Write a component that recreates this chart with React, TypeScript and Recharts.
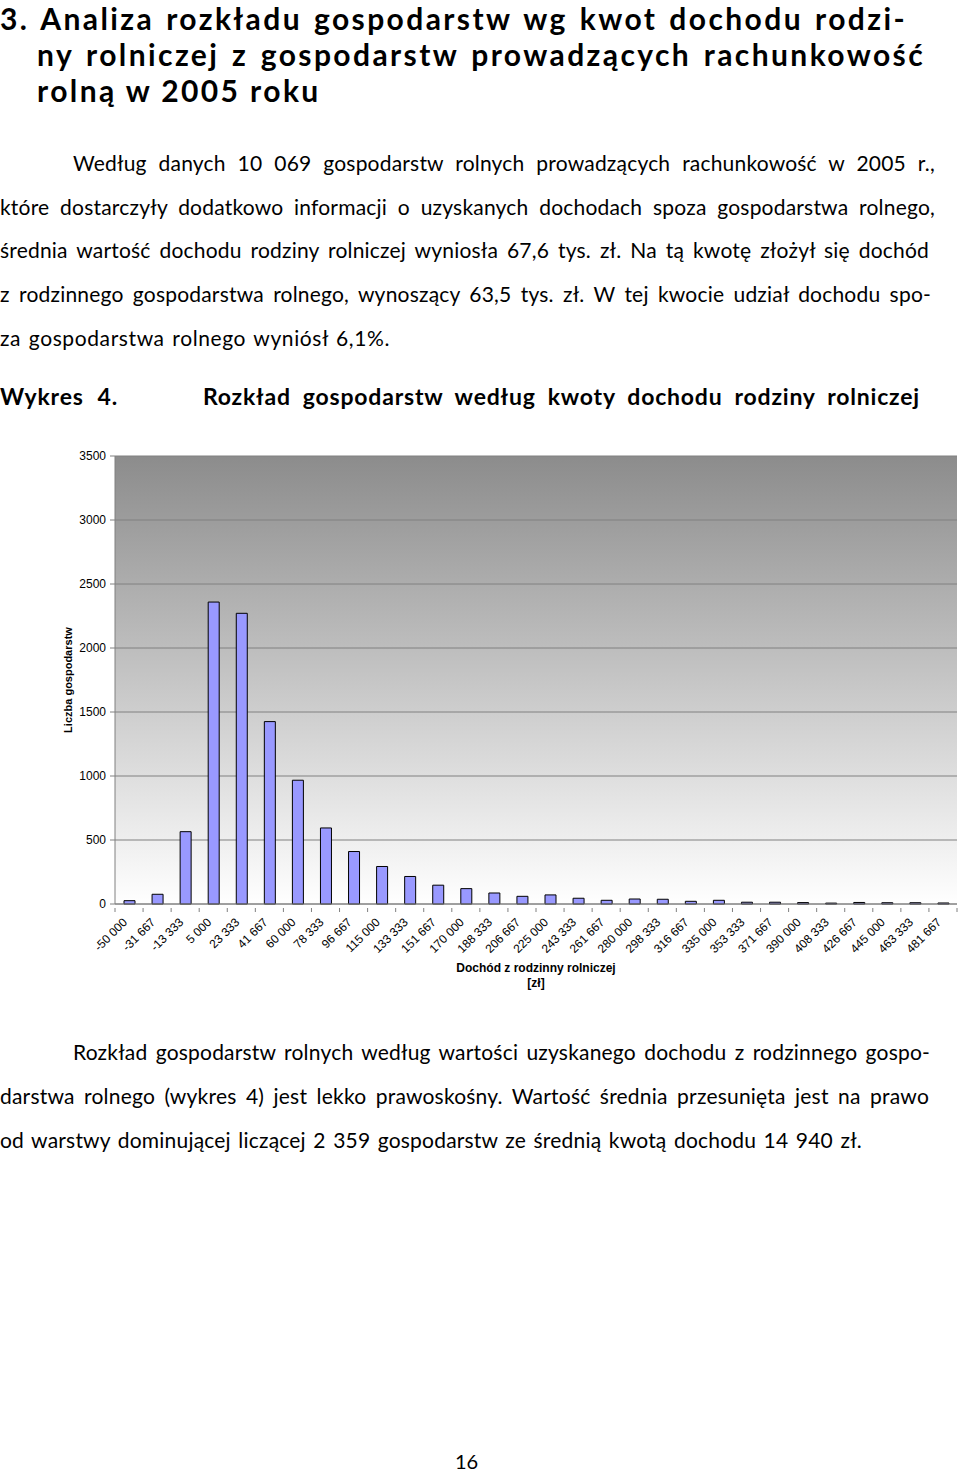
import React from 'react';
import { BarChart, Bar, XAxis, YAxis, CartesianGrid, Label } from 'recharts';

// income classes (zł) and number of farms in each
const incomeLabels = [
  '-50 000', '-31 667', '-13 333', '5 000', '23 333', '41 667', '60 000', '78 333',
  '96 667', '115 000', '133 333', '151 667', '170 000', '188 333', '206 667', '225 000',
  '243 333', '261 667', '280 000', '298 333', '316 667', '335 000', '353 333', '371 667',
  '390 000', '408 333', '426 667', '445 000', '463 333', '481 667',
];
const farmCounts = [
  26, 76, 565, 2359, 2271, 1425, 967, 594, 410, 293, 215, 147, 120, 86, 60, 71,
  45, 29, 39, 37, 21, 29, 14, 14, 11, 7, 12, 10, 10, 8,
];
const countTicks = [0, 500, 1000, 1500, 2000, 2500, 3000, 3500];

const titleLines = [
  '3. Analiza rozkładu gospodarstw wg kwot dochodu rodzi-',
  'ny rolniczej z gospodarstw prowadzących rachunkowość',
  'rolną w 2005 roku',
];
const introLines = [
  'Według danych 10 069 gospodarstw rolnych prowadzących rachunkowość w 2005 r.,',
  'które dostarczyły dodatkowo informacji o uzyskanych dochodach spoza gospodarstwa rolnego,',
  'średnia wartość dochodu rodziny rolniczej wyniosła 67,6 tys. zł. Na tą kwotę złożył się dochód',
  'z rodzinnego gospodarstwa rolnego, wynoszący 63,5 tys. zł. W tej kwocie udział dochodu spo-',
  'za gospodarstwa rolnego wyniósł 6,1%.',
];
const outroLines = [
  'Rozkład gospodarstw rolnych według wartości uzyskanego dochodu z rodzinnego gospo-',
  'darstwa rolnego (wykres 4) jest lekko prawoskośny. Wartość średnia przesunięta jest na prawo',
  'od warstwy dominującej liczącej 2 359 gospodarstw ze średnią kwotą dochodu 14 940 zł.',
];

const chartData = incomeLabels.map((label, i) => ({ label, count: farmCounts[i] }));

const TEXT_FONT = 'Lato, "Open Sans", sans-serif';
const CHART_FONT = '"Liberation Sans Narrow", "Liberation Sans", Arial, sans-serif';

function TextLine({ text, top, left = 0, width, size, bold = false, justify = true, lh = 1.2, spacing = 0 }: any) {
  return (
    <div
      style={{
        position: 'absolute',
        top,
        left,
        width,
        fontFamily: TEXT_FONT,
        fontSize: size,
        lineHeight: `${size * lh}px`,
        fontWeight: bold ? 700 : 400,
        letterSpacing: spacing,
        color: '#000',
        textAlign: justify ? 'justify' : 'left',
        textAlignLast: justify ? 'justify' : 'left',
      }}
    >
      {text}
    </div>
  );
}

function IncomeTick(props: any) {
  const { x, y, payload, index, visibleTicksCount } = props;
  const half = payload?.offset ?? 14;
  const axisY = y;
  const ax = x - 1;
  const ay = axisY + 15;
  return (
    <g>
      <line x1={x - half} x2={x - half} y1={axisY} y2={axisY + 4} stroke="#808080" />
      {index === visibleTicksCount - 1 && (
        <line x1={x + half} x2={x + half} y1={axisY} y2={axisY + 4} stroke="#808080" />
      )}
      <text
        x={ax}
        y={ay}
        textAnchor="end"
        transform={`rotate(-45 ${ax} ${ay})`}
        fontSize={12}
        fontFamily={CHART_FONT}
        fill="#000"
      >
        {payload.value}
      </text>
    </g>
  );
}

function XTitle({ viewBox }: any) {
  const cx = viewBox.x + viewBox.width / 2;
  return (
    <text textAnchor="middle" fontSize={12} fontWeight="bold" fontFamily={CHART_FONT} fill="#000">
      <tspan x={cx} y={viewBox.y + 68}>Dochód z rodzinny rolniczej</tspan>
      <tspan x={cx} y={viewBox.y + 83}>[zł]</tspan>
    </text>
  );
}

function YTitle({ viewBox }: any) {
  const cx = viewBox.x + 68;
  const cy = viewBox.y + viewBox.height / 2;
  return (
    <text
      x={cx}
      y={cy}
      transform={`rotate(-90 ${cx} ${cy})`}
      textAnchor="middle"
      dominantBaseline="central"
      fontSize={11}
      fontWeight="bold"
      fontFamily={CHART_FONT}
      fill="#000"
    >
      Liczba gospodarstw
    </text>
  );
}

function IncomeChart() {
  return (
    <BarChart
      width={960}
      height={560}
      data={chartData}
      margin={{ top: 16, right: 3, left: 0, bottom: 0 }}
      barSize={11}
    >
      <defs>
        <linearGradient id="plotBg" x1="0" y1="0" x2="0" y2="1">
          <stop offset="0%" stopColor="#8c8c8c" />
          <stop offset="100%" stopColor="#ffffff" />
        </linearGradient>
      </defs>
      <CartesianGrid vertical={false} stroke="#808080" fill="url(#plotBg)" fillOpacity={1} />
      <XAxis
        dataKey="label"
        interval={0}
        height={96}
        tickSize={4}
        tickMargin={0}
        tickLine={false}
        axisLine={{ stroke: '#808080' }}
        tick={<IncomeTick />}
      >
        <Label content={<XTitle />} />
      </XAxis>
      <YAxis
        domain={[0, 3500]}
        ticks={countTicks}
        interval={0}
        width={115}
        tickSize={5}
        tickMargin={4}
        axisLine={{ stroke: '#808080' }}
        tickLine={{ stroke: '#808080' }}
        tick={{ fontSize: 12, fill: '#000', fontFamily: CHART_FONT }}
      >
        <Label content={<YTitle />} />
      </YAxis>
      <Bar dataKey="count" fill="#9999ff" stroke="#000" strokeWidth={1} isAnimationActive={false} />
    </BarChart>
  );
}

export default function App() {
  return (
    <div style={{ position: 'absolute', left: 0, top: 0, width: 960, height: 1475, background: '#fff', overflow: 'hidden' }}>
      <TextLine text={titleLines[0]} top={0} width={907} size={30} spacing={2.4} bold />
      <TextLine text={titleLines[1]} top={36} left={37} width={888} size={30} spacing={2.4} bold />
      <TextLine text={titleLines[2]} top={72} left={37} size={30} spacing={2.4} bold justify={false} />

      <TextLine text={introLines[0]} top={150} left={73} width={862} size={21} spacing={0.2} />
      <TextLine text={introLines[1]} top={194} width={935} size={21} spacing={0.2} />
      <TextLine text={introLines[2]} top={237} width={929} size={21} spacing={0.2} />
      <TextLine text={introLines[3]} top={281} width={931} size={21} spacing={0.2} />
      <TextLine text={introLines[4]} top={325} width={390} size={21} spacing={0.6} />

      <TextLine text="Wykres 4." top={383} width={118} size={23} spacing={0.8} bold />
      <TextLine text="Rozkład gospodarstw według kwoty dochodu rodziny rolniczej" top={383} left={203} width={717} size={23} spacing={0.8} bold />

      <div style={{ position: 'absolute', left: 0, top: 440 }}>
        <IncomeChart />
      </div>

      <TextLine text={outroLines[0]} top={1039} left={73} width={857} size={21} spacing={0.2} />
      <TextLine text={outroLines[1]} top={1083} width={929} size={21} spacing={0.2} />
      <TextLine text={outroLines[2]} top={1127} width={862} size={21} spacing={0.2} />

      <TextLine text="16" top={1451} left={455} size={20} lh={1} justify={false} />
    </div>
  );
}
